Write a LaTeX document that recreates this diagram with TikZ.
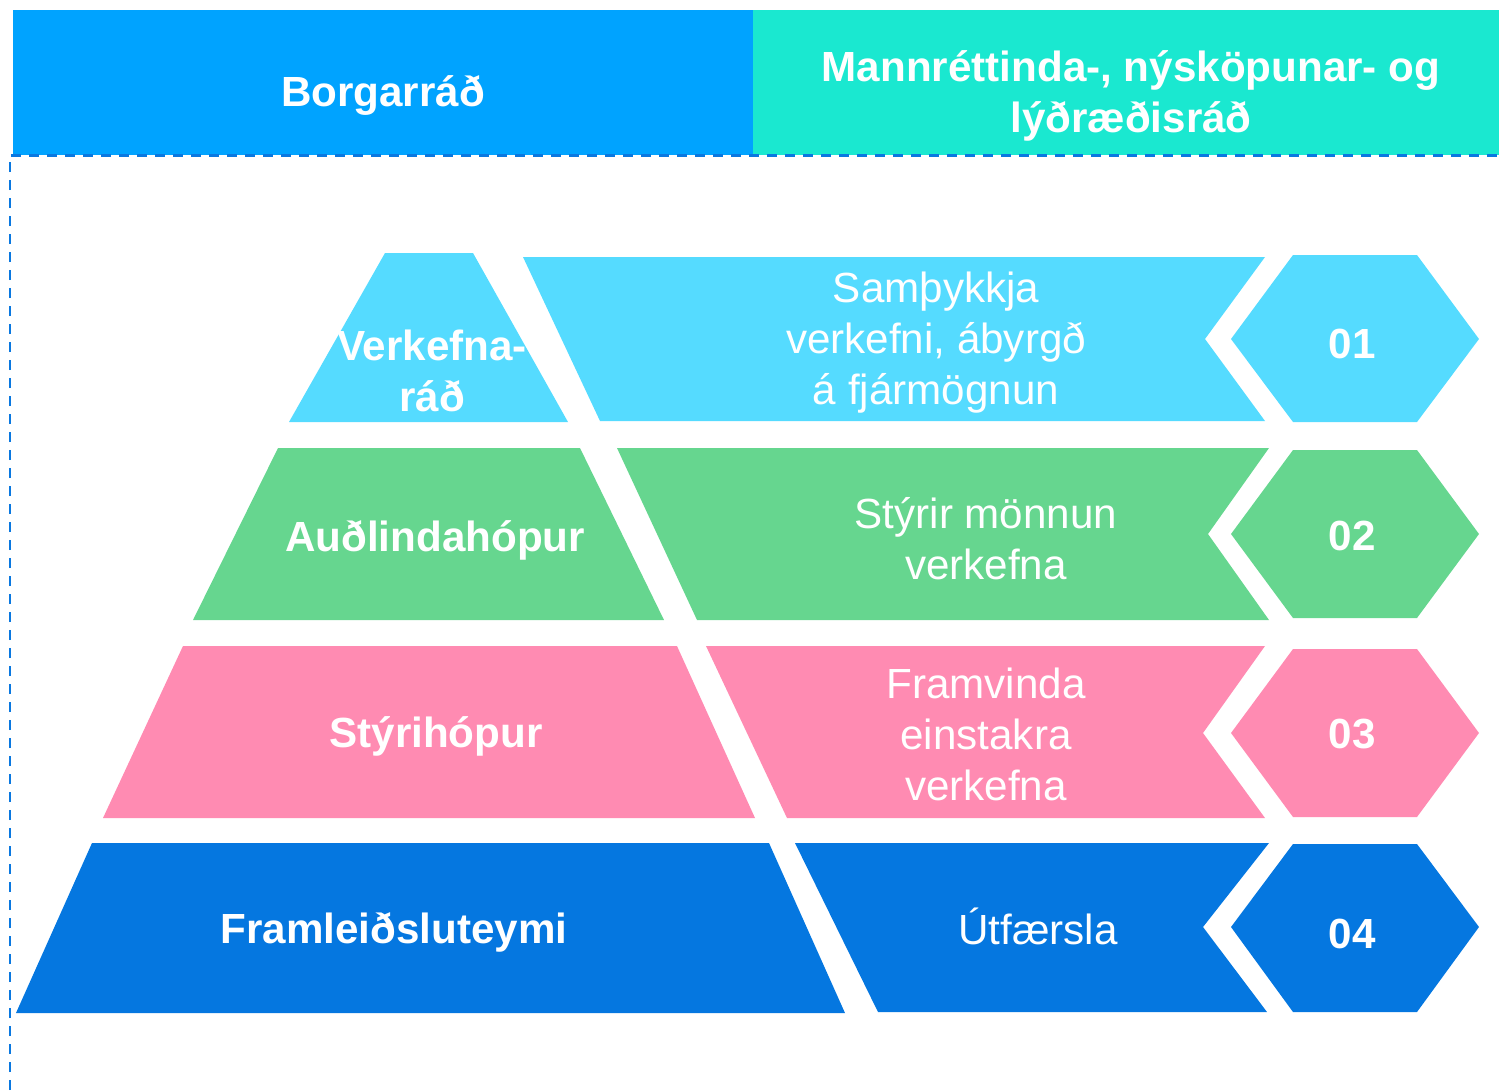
\documentclass[tikz,border=0pt]{standalone}
\usepackage{fontspec}
\setmainfont{Liberation Sans}

\definecolor{borgblue}{HTML}{00A3FF}
\definecolor{mannteal}{HTML}{1AE8D0}
\definecolor{tierone}{HTML}{55DBFF}
\definecolor{tiertwo}{HTML}{66D68F}
\definecolor{tierthree}{HTML}{FF8BB2}
\definecolor{tierfour}{HTML}{0577E0}
\definecolor{frameblue}{HTML}{0A78E0}

\begin{document}
\begin{tikzpicture}[
      x=0.02cm, y=-0.02cm,
      headtext/.style={text=white, font=\fontsize{24}{29}\selectfont\bfseries, align=center},
      tiertext/.style={text=white, font=\fontsize{24}{29}\selectfont\bfseries, align=center},
      tasktext/.style={text=white, font=\fontsize{24}{29}\selectfont, align=center},
      numtext/.style={text=white, font=\fontsize{24}{29}\selectfont\bfseries},
      dashframe/.style={draw=frameblue, line width=1.7pt, dash pattern=on 0.2cm off 0.16cm}
    ]
      \useasboundingbox (0,0) rectangle (1499,1090);

      % Header
      \fill[borgblue] (13,10) rectangle (753,155);
      \fill[mannteal] (753,10) rectangle (1499,155);
      \node[headtext] (borg) at (383,95) {Borgarráð};
      \node[headtext] (mann) at (1131,96) {Mannréttinda-, nýsköpunar- og\\lýðræðisráð};
      \draw[dashframe] (10,1090) -- (10,155) -- (1499,155);

      % Tier 01
      \fill[tierone] (385,253) -- (473,253) -- (568,422) -- (289,422) -- cycle;
      \fill[tierone] (523,257) -- (1265,257) -- (1205,339) -- (1265,421) -- (600,421) -- cycle;
      \fill[tierone] (1231,339) -- (1293,255) -- (1417,255) -- (1479,339) -- (1417,422) -- (1293,422) -- cycle;
      \node[tiertext] (verkefnarad) at (432,371) {Verkefna-\\ráð};
      \node[tasktext] (sampykkja) at (936,343) {Samþykkja\\verkefni, ábyrgð\\á fjármögnun};
      \node[numtext] (n01) at (1352,344) {01};

      % Tier 02
      \fill[tiertwo] (278,448) -- (580,448) -- (664,620) -- (193,620) -- cycle;
      \fill[tiertwo] (617,448) -- (1269,448) -- (1208,534) -- (1269,620) -- (697,620) -- cycle;
      \fill[tiertwo] (1231,534) -- (1293,450) -- (1417,450) -- (1479,534) -- (1417,618) -- (1293,618) -- cycle;
      \node[tiertext] (audlind) at (435,540) {Auðlindahópur};
      \node[tasktext] (styrir) at (986,539) {Stýrir mönnun\\verkefna};
      \node[numtext] (n02) at (1352,536) {02};

      % Tier 03
      \fill[tierthree] (183,646) -- (677,646) -- (755,818) -- (103,818) -- cycle;
      \fill[tierthree] (706,646) -- (1265,646) -- (1203,733) -- (1265,818) -- (787,818) -- cycle;
      \fill[tierthree] (1231,733) -- (1293,649) -- (1417,649) -- (1479,733) -- (1417,817) -- (1293,817) -- cycle;
      \node[tiertext] (styri) at (436,736) {Stýrihópur};
      \node[tasktext] (framvinda) at (986,734) {Framvinda\\einstakra\\verkefna};
      \node[numtext] (n03) at (1352,734) {03};

      % Tier 04
      \fill[tierfour] (92,843) -- (769,843) -- (845,1013) -- (16,1013) -- cycle;
      \fill[tierfour] (795,843) -- (1269,843) -- (1203,927) -- (1267,1012) -- (878,1012) -- cycle;
      \fill[tierfour] (1231,927) -- (1293,844) -- (1417,844) -- (1479,927) -- (1417,1012) -- (1293,1012) -- cycle;
      \node[tiertext] (framleid) at (394,932) {Framleiðsluteymi};
      \node[tasktext] (utfaersla) at (1038,926) {Útfærsla};
      \node[numtext] (n04) at (1352,934) {04};
    \end{tikzpicture}
\end{document}
